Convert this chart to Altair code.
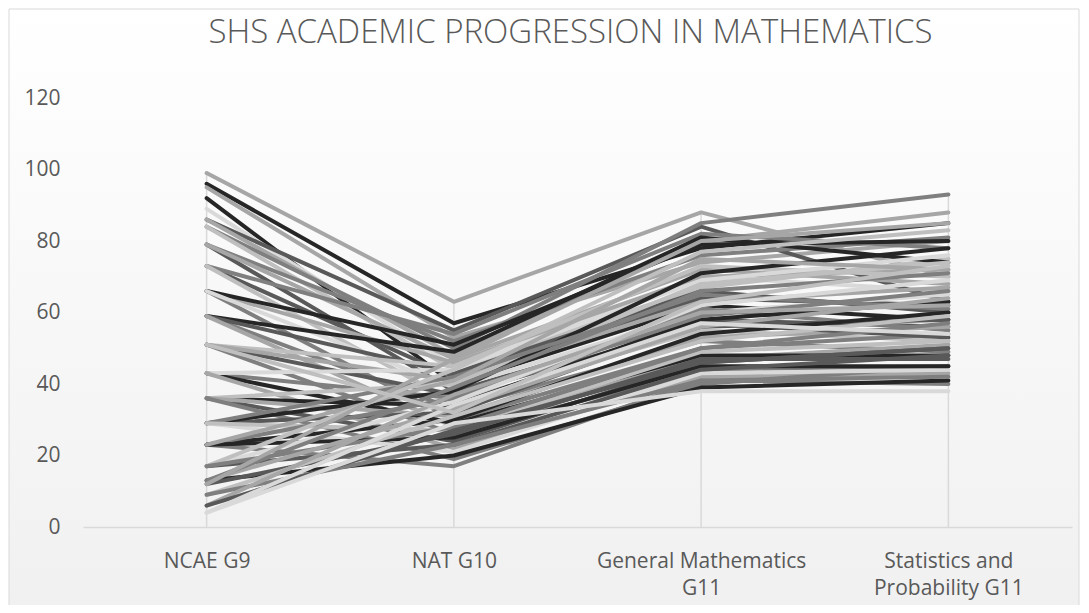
import altair as alt
import pandas as pd

categories = ["NCAE G9", "NAT G10", "General Mathematics G11", "Statistics and Probability G11"]

ncae_g9 = [99, 96, 95, 92, 89, 86, 86, 84, 84, 79, 79, 79, 73, 73, 73, 66, 66, 66, 66, 59, 59, 59, 59,
           51, 51, 51, 51, 43, 43, 43, 43, 36, 36, 36, 36, 36, 29, 29, 29, 29, 29, 23, 23, 23, 23, 23,
           17, 17, 17, 17, 13, 13, 13, 12, 12, 9, 9, 6, 6, 4, 4, 51]
nat_g10 = [63, 57, 53, 40, 45, 55, 48, 50, 44, 52, 38, 47, 42, 54, 35, 46, 30, 51, 39, 49, 33, 43, 28,
           37, 45, 26, 41, 36, 29, 44, 22, 34, 40, 24, 31, 19, 32, 38, 21, 42, 27, 30, 36, 17, 25, 41,
           35, 23, 44, 28, 33, 20, 39, 26, 47, 31, 23, 37, 27, 34, 29, 32]
gen_math_g11 = [88, 78, 74, 62, 70, 84, 80, 85, 67, 76, 58, 72, 64, 82, 55, 70, 50, 79, 60, 81, 52, 66, 47,
                56, 73, 44, 63, 61, 48, 69, 42, 58, 68, 46, 53, 40, 57, 71, 43, 65, 49, 54, 59, 41, 45, 75,
                62, 44, 77, 50, 56, 39, 66, 47, 80, 52, 41, 60, 46, 57, 38, 63]
stat_prob_g11 = [70, 85, 80, 58, 66, 63, 88, 93, 75, 81, 56, 68, 62, 78, 52, 72, 54, 80, 65, 74, 49, 60, 51,
                 58, 70, 45, 67, 55, 48, 76, 43, 63, 74, 50, 56, 45, 53, 78, 44, 61, 52, 60, 66, 40, 45, 72,
                 69, 48, 83, 57, 64, 41, 71, 47, 85, 59, 42, 62, 50, 54, 38, 73]
line_colors = ["#a6a6a6", "#262626", "#a6a6a6", "#262626", "#d9d9d9", "#595959", "#a6a6a6", "#7f7f7f",
               "#bfbfbf", "#7f7f7f", "#595959", "#a6a6a6", "#595959", "#7f7f7f", "#bfbfbf", "#a6a6a6",
               "#7f7f7f", "#262626", "#d9d9d9", "#262626", "#7f7f7f", "#595959", "#a6a6a6", "#595959",
               "#bfbfbf", "#7f7f7f", "#a6a6a6", "#7f7f7f", "#262626", "#d9d9d9", "#a6a6a6", "#262626",
               "#bfbfbf", "#595959", "#a6a6a6", "#7f7f7f", "#595959", "#262626", "#d9d9d9", "#7f7f7f",
               "#bfbfbf", "#262626", "#7f7f7f", "#7f7f7f", "#262626", "#a6a6a6", "#d9d9d9", "#595959",
               "#bfbfbf", "#7f7f7f", "#a6a6a6", "#262626", "#7f7f7f", "#595959", "#a6a6a6", "#bfbfbf",
               "#7f7f7f", "#a6a6a6", "#595959", "#d9d9d9", "#d9d9d9", "#bfbfbf"]
title_text = "SHS ACADEMIC PROGRESSION IN MATHEMATICS"

ids = [f"S{i+1:02d}" for i in range(len(ncae_g9))]
rows = []
for i, sid in enumerate(ids):
    for cat, series in zip(categories, [ncae_g9, nat_g10, gen_math_g11, stat_prob_g11]):
        rows.append({"student": sid, "test": cat, "score": series[i]})
df = pd.DataFrame(rows)

W, H = 989, 429
PAD_L, PAD_T, PAD_R, PAD_B = 75, 90, 9, 78
FONT = "Open Sans"
TXT = "#595959"

gradient = alt.LinearGradient(
    gradient="linear",
    stops=[alt.GradientStop(color="#ffffff", offset=0), alt.GradientStop(color="#f0f0f0", offset=1)],
    x1=0, x2=0, y1=0, y2=1,
)

bg = alt.Chart(alt.Data(values=[{"a": 1}])).mark_rect(
    color=gradient, stroke="#d9d9d9", strokeWidth=1
).encode(
    x=alt.value(-PAD_L + 1), x2=alt.value(W + PAD_R - 2),
    y=alt.value(-PAD_T + 1), y2=alt.value(H + PAD_B + 20),
)

title = alt.Chart(alt.Data(values=[{"t": title_text}])).mark_text(
    font=FONT, fontSize=33, fontWeight=300, color=TXT, align="center", baseline="alphabetic"
).encode(
    text="t:N", x=alt.value(W / 2 - 7), y=alt.value(-55),
)

x_enc = alt.X(
    "test:N", sort=categories, title=None,
    scale=alt.Scale(type="point", padding=0.5, domain=categories),
    axis=alt.Axis(
        labelAngle=0, ticks=False, grid=False, domainColor="#d9d9d9", domainWidth=1.5, zindex=1,
        labelFont=FONT, labelFontSize=21, labelColor=TXT, labelPadding=23, labelLineHeight=27,
        labelLimit=400,
        labelExpr="datum.value == 'General Mathematics G11' ? ['General Mathematics', 'G11'] : "
                  "datum.value == 'Statistics and Probability G11' ? ['Statistics and', 'Probability G11'] : datum.value",
    ),
)
y_scale = alt.Scale(domain=[0, 120], nice=False)

drop = alt.Chart(df).transform_aggregate(
    top="max(score)", groupby=["test"]
).mark_rule(color="#d9d9d9", strokeWidth=1.5).encode(
    x=x_enc,
    y=alt.Y("top:Q", scale=y_scale, title=None,
            axis=alt.Axis(values=[0, 20, 40, 60, 80, 100, 120], grid=False, domain=False, ticks=False,
                          zindex=1, labelFont=FONT, labelFontSize=21, labelColor=TXT, labelPadding=23)),
    y2=alt.datum(0),
)

lines = alt.Chart(df).mark_line(strokeWidth=4, strokeJoin="round", strokeCap="round").encode(
    x=x_enc,
    y=alt.Y("score:Q", scale=y_scale),
    color=alt.Color("student:N", scale=alt.Scale(domain=ids, range=line_colors), legend=None),
    detail="student:N",
)

chart = alt.layer(bg, title, drop, lines).properties(
    width=W, height=H,
    autosize=alt.AutoSizeParams(type="none"),
    padding={"left": PAD_L, "top": PAD_T, "right": PAD_R, "bottom": PAD_B},
).configure_view(stroke=None).configure(background="#ffffff")

chart.save("out.html", embed_options={"renderer": "svg", "actions": False})
